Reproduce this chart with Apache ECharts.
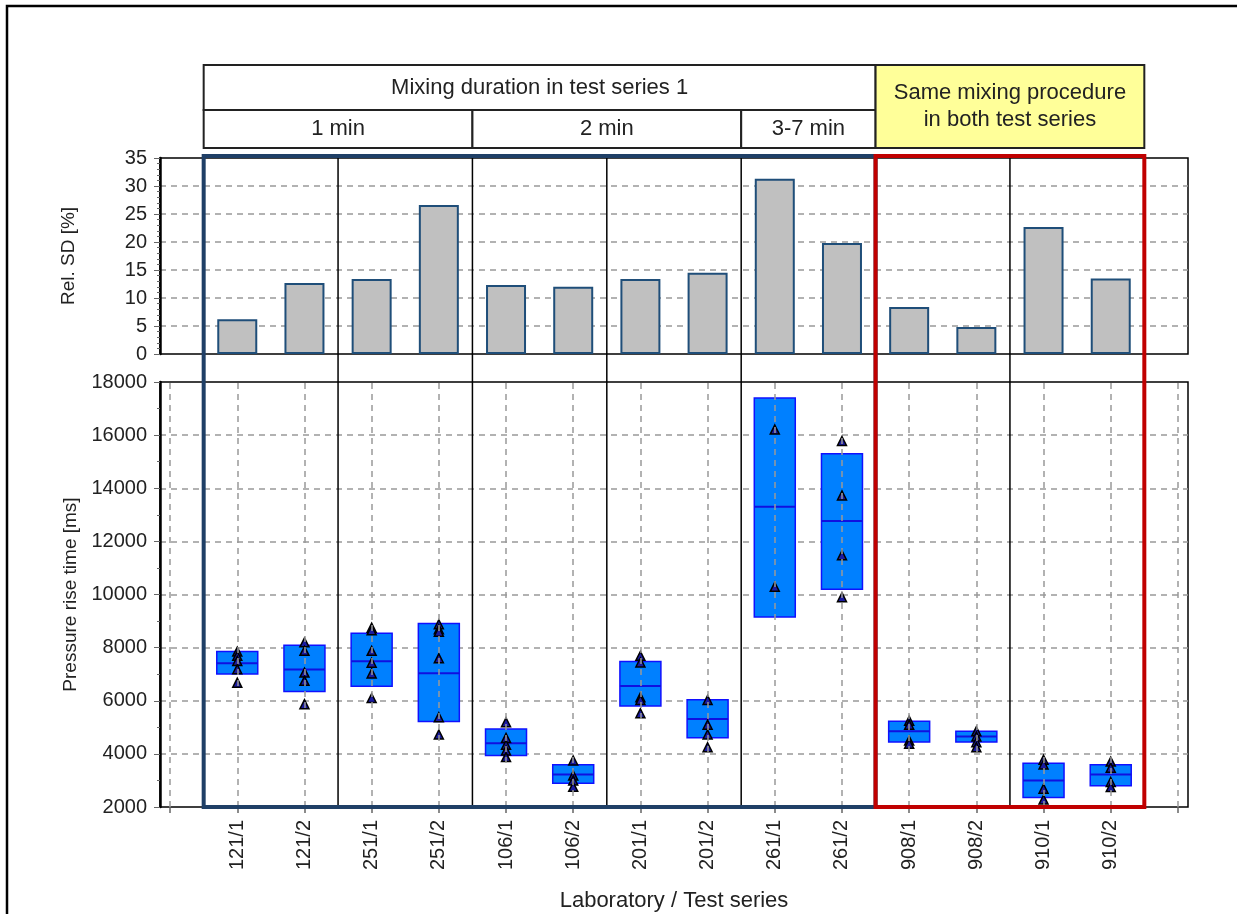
<!DOCTYPE html>
<html>
<head>
<meta charset="utf-8">
<script src="https://cdn.jsdelivr.net/npm/echarts@6/dist/echarts.min.js"></script>
<style>
html,body{margin:0;padding:0;background:#fff;}
#main{width:1237px;height:914px;}
</style>
</head>
<body>
<div id="main"></div>
<script>
// lab / test series
var labs=['121/1','121/2','251/1','251/2','106/1','106/2','201/1','201/2','261/1','261/2','908/1','908/2','910/1','910/2'];
// Rel. SD [%]
var relSD=[6.2,12.7,13.4,26.6,12.3,12.0,13.4,14.5,31.3,19.8,8.4,4.8,22.7,13.5];
// box: lower edge, median, upper edge [ms]
var boxLow=[7010,6350,6550,5220,3940,2890,5800,4610,9150,10200,4450,4450,2360,2800];
var boxMed=[7410,7180,7490,7040,4400,3220,6560,5310,13300,12770,4850,4650,3000,3220];
var boxHigh=[7850,8090,8540,8910,4940,3590,7480,6040,17400,15300,5230,4850,3650,3590];
// single results [ms]
var points=[
    [7850,7690,7500,7190,6680],
    [8200,7880,7060,6750,5870],
    [8750,8650,7880,7430,7030,6100],
    [8880,8690,8600,7600,5380,4730],
    [5190,4600,4340,4130,3880],
    [3750,3190,3000,2760],
    [7690,7440,6130,6030,5530],
    [6030,5100,4730,4250],
    [16210,10290],
    [15780,13730,11480,9900],
    [5250,5100,4500,4380],
    [4850,4650,4440,4250],
    [3780,3600,2690,2280],
    [3710,3480,2940,2750]
];
// header groups (index of first/last lab)
var topGroups=[{name:'Mixing duration in test series 1',first:0,last:9}];
var subGroups=[{name:'1 min',first:0,last:3},{name:'2 min',first:4,last:7},{name:'3-7 min',first:8,last:9}];
var sameGroup={name:'Same mixing procedure\nin both test series',first:10,last:13};
var separators=[1,3,5,7,11]; // solid line after these labs

var FONT='Liberation Sans';
var grey='#999';

var barData=[],boxData=[],ptData=[],vLines=[];
for(var i=0;i<labs.length;i++)
{
    barData.push([i+1,relSD[i]]);
    boxData.push([i+1,boxLow[i],boxMed[i],boxHigh[i]]);
    for(var j=0;j<points[i].length;j++) ptData.push([i+1,points[i][j]]);
}
for(var k=0;k<=labs.length+1;k++) vLines.push({xAxis:k});
var allX=[];for(var k=0;k<=15;k++) allX.push(k);
var labX=[];for(var k=1;k<=14;k++) labX.push(k);

function renderBox(params,api)
{
    var x=api.value(0);
    var w=api.size([0.61,0])[0];
    var pHi=api.coord([x,api.value(3)]);
    var pLo=api.coord([x,api.value(1)]);
    var pMd=api.coord([x,api.value(2)]);
    return {type:'group',children:[
        {type:'rect',shape:{x:pHi[0]-w/2,y:pHi[1],width:w,height:pLo[1]-pHi[1]},
            style:{fill:'#0080ff',stroke:'#1010ff',lineWidth:1.5}},
        {type:'line',shape:{x1:pHi[0]-w/2,y1:pMd[1],x2:pHi[0]+w/2,y2:pMd[1]},
            style:{stroke:'#1010e0',lineWidth:2}}
    ]};
}
function plain(v){return String(v);}

var chart=echarts.init(document.getElementById('main'));
var option={
    animation:false,
    backgroundColor:'#fff',
    textStyle:{fontFamily:FONT},
    grid:[
        {left:160,right:49,top:158,height:196,show:true,borderColor:'#000',borderWidth:1.5,backgroundColor:'transparent'},
        {left:160,right:49,top:382,height:425,show:true,borderColor:'#000',borderWidth:1.5,backgroundColor:'transparent'}
    ],
    xAxis:[
        {gridIndex:0,type:'value',min:-0.15,max:15.15,axisLine:{show:false},axisTick:{show:false},axisLabel:{show:false},splitLine:{show:false}},
        {gridIndex:1,type:'value',min:-0.15,max:15.15,
            name:'Laboratory / Test series',nameLocation:'middle',nameGap:83,
            nameTextStyle:{fontSize:22,color:'#222',fontFamily:FONT},
            axisLine:{show:false,onZero:false},
            axisTick:{show:true,customValues:allX,length:6,lineStyle:{color:'#666',width:1.5}},
            axisLabel:{show:true,customValues:labX,rotate:90,margin:13,fontSize:20,color:'#222',fontFamily:FONT,
                formatter:function(v){return labs[Math.round(v)-1]||'';}},
            splitLine:{show:false}}
    ],
    yAxis:[
        {gridIndex:0,type:'value',min:0,max:35,interval:5,
            name:'Rel. SD [%]',nameLocation:'middle',nameGap:82,
            nameTextStyle:{fontSize:19,color:'#222',fontFamily:FONT},
            axisLine:{show:true,onZero:false,lineStyle:{color:'#000',width:2.5}},
            axisTick:{show:true,length:6,lineStyle:{color:'#666'}},
            minorTick:{show:true,splitNumber:5,length:3,lineStyle:{color:'#666'}},
            axisLabel:{fontSize:20,color:'#222',margin:13,fontFamily:FONT,formatter:plain},
            splitLine:{show:true,showMinLine:false,showMaxLine:false,lineStyle:{color:grey,type:[6,5],width:1.5}}},
        {gridIndex:1,type:'value',min:2000,max:18000,interval:2000,
            name:'Pressure rise time [ms]',nameLocation:'middle',nameGap:72,
            nameTextStyle:{fontSize:19,color:'#222',fontFamily:FONT},
            axisLine:{show:true,onZero:false,lineStyle:{color:'#000',width:2.5}},
            axisTick:{show:true,length:6,lineStyle:{color:'#666'}},
            minorTick:{show:true,splitNumber:2,length:3,lineStyle:{color:'#666'}},
            axisLabel:{fontSize:20,color:'#222',margin:13,fontFamily:FONT,formatter:plain},
            splitLine:{show:true,showMinLine:false,showMaxLine:false,lineStyle:{color:grey,type:[6,5],width:1.5}}}
    ],
    series:[
        {type:'bar',xAxisIndex:0,yAxisIndex:0,data:barData,barWidth:40,
            itemStyle:{color:'#c0c0c0',borderColor:'#1f4e79',borderWidth:2}},
        {type:'line',xAxisIndex:1,yAxisIndex:1,data:[],z:1,
            markLine:{silent:true,symbol:'none',label:{show:false},
                lineStyle:{color:grey,type:[6,5],width:1.5},data:vLines}},
        {type:'custom',xAxisIndex:1,yAxisIndex:1,data:boxData,renderItem:renderBox,z:3},
        {type:'scatter',xAxisIndex:1,yAxisIndex:1,data:ptData,symbol:'triangle',symbolSize:[9,9],z:4,
            itemStyle:{color:'#1a1aa0',borderColor:'#000',borderWidth:1.5,opacity:1}}
    ]
};
chart.setOption(option);

// frames, separators and header boxes from the axis scale
function px(v){return chart.convertToPixel({xAxisIndex:1},v);}
var yTop=chart.convertToPixel({yAxisIndex:0},35)-2;
var yBot=chart.convertToPixel({yAxisIndex:1},2000);
var g=[];
g.push({type:'rect',shape:{x:7,y:6,width:1240,height:930},style:{fill:'none',stroke:'#000',lineWidth:2.5},z:10});
for(var s=0;s<separators.length;s++)
{
    var xs=px(separators[s]+1.5);
    g.push({type:'line',shape:{x1:xs,y1:yTop,x2:xs,y2:yBot},style:{stroke:'#000',lineWidth:1.5},z:10});
}
var bx1=px(topGroups[0].first+0.5),bx2=px(topGroups[0].last+1.5);
g.push({type:'rect',shape:{x:bx1,y:yTop,width:bx2-bx1,height:yBot-yTop},style:{fill:'none',stroke:'#1f3f66',lineWidth:4},z:11});
var rx1=px(sameGroup.first+0.5),rx2=px(sameGroup.last+1.5);
g.push({type:'rect',shape:{x:rx1,y:yTop,width:rx2-rx1,height:yBot-yTop},style:{fill:'none',stroke:'#c00000',lineWidth:4},z:12});

var hTop=65,hMid=110,hBot=148;
function cell(x1,x2,y1,y2,text,fill)
{
    g.push({type:'rect',shape:{x:x1,y:y1,width:x2-x1,height:y2-y1},style:{fill:fill,stroke:'#222',lineWidth:2},z:10});
    g.push({type:'text',x:(x1+x2)/2,y:(y1+y2)/2,style:{text:text,fill:'#222',font:'22px "'+FONT+'"',align:'center',verticalAlign:'middle',lineHeight:27},z:11});
}
for(var t=0;t<topGroups.length;t++)
    cell(px(topGroups[t].first+0.5),px(topGroups[t].last+1.5),hTop,hMid,topGroups[t].name,'#fff');
for(var t=0;t<subGroups.length;t++)
    cell(px(subGroups[t].first+0.5),px(subGroups[t].last+1.5),hMid,hBot,subGroups[t].name,'#fff');
cell(rx1,rx2,hTop,hBot,sameGroup.name,'#ffff99');
chart.setOption({graphic:g});
</script>
</body>
</html>
